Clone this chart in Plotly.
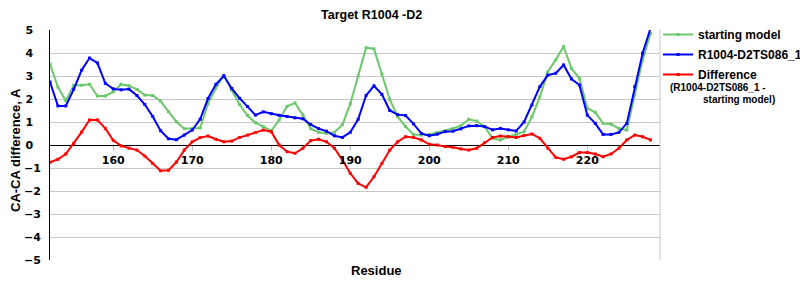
import plotly.graph_objects as go

residues = list(range(152, 229))

starting_model = [3.52, 2.52, 1.92, 2.60, 2.60, 2.64, 2.13, 2.13, 2.31, 2.64,
                  2.58, 2.42, 2.17, 2.15, 1.90, 1.45, 1.01, 0.71, 0.71, 0.74,
                  1.80, 2.48, 3.02, 2.38, 1.75, 1.28, 0.97, 0.80, 0.62, 1.09,
                  1.68, 1.83, 1.30, 0.71, 0.55, 0.50, 0.55, 0.88, 1.79, 3.00,
                  4.23, 4.18, 3.08, 1.98, 1.23, 0.80, 0.46, 0.43, 0.46, 0.55,
                  0.61, 0.72, 0.84, 1.12, 1.04, 0.80, 0.29, 0.22, 0.36, 0.46,
                  0.58, 1.23, 2.10, 3.19, 3.70, 4.28, 3.33, 2.90, 1.60, 1.42,
                  0.94, 0.91, 0.72, 0.65, 2.20, 3.70, 4.85]

model_ts086 = [2.74, 1.70, 1.70, 2.42, 3.25, 3.78, 3.57, 2.68, 2.44, 2.40,
               2.43, 2.15, 1.76, 1.24, 0.62, 0.27, 0.23, 0.43, 0.65, 1.12,
               2.02, 2.64, 3.01, 2.46, 2.03, 1.67, 1.30, 1.44, 1.36, 1.29,
               1.24, 1.18, 1.14, 0.89, 0.71, 0.60, 0.40, 0.33, 0.55, 1.12,
               2.15, 2.57, 2.20, 1.50, 1.32, 1.28, 0.92, 0.50, 0.40, 0.47,
               0.58, 0.60, 0.70, 0.83, 0.84, 0.80, 0.66, 0.72, 0.66, 0.61,
               1.00, 1.74, 2.54, 3.04, 3.12, 3.48, 2.87, 2.61, 1.30, 0.94,
               0.46, 0.46, 0.55, 0.94, 2.54, 3.99, 5.07]

difference = [-0.75, -0.62, -0.39, 0.07, 0.56, 1.09, 1.09, 0.72, 0.20, -0.04,
              -0.14, -0.22, -0.48, -0.80, -1.12, -1.10, -0.74, -0.22, 0.14, 0.32,
              0.39, 0.25, 0.14, 0.17, 0.33, 0.43, 0.54, 0.65, 0.58, 0.00,
              -0.29, -0.36, -0.14, 0.19, 0.25, 0.14, -0.14, -0.65, -1.23, -1.67,
              -1.84, -1.38, -0.80, -0.22, 0.14, 0.36, 0.33, 0.22, 0.03, 0.00,
              -0.07, -0.10, -0.17, -0.22, -0.14, 0.10, 0.33, 0.39, 0.36, 0.33,
              0.41, 0.48, 0.29, -0.14, -0.54, -0.62, -0.51, -0.33, -0.33, -0.39,
              -0.51, -0.39, -0.14, 0.22, 0.43, 0.36, 0.22]

x_ticks = [160, 170, 180, 190, 200, 210, 220]
y_ticks = [5, 4, 3, 2, 1, 0, -1, -2, -3, -4, -5]
y_tick_text = [(str(v) + "\u2007") if v >= 0 else "\u2212" + str(-v) for v in y_ticks]

GREEN = "#6CC86C"
BLUE = "#0000FF"
RED = "#FF0000"

fig = go.Figure()
for name, vals, col in [("starting model", starting_model, GREEN),
                        ("R1004-D2TS086_1", model_ts086, BLUE),
                        ("Difference", difference, RED)]:
    fig.add_trace(go.Scatter(
        x=residues, y=vals, name=name, legendgroup=name, mode="lines+markers",
        line=dict(color=col, width=2),
        marker=dict(color=col, size=3, symbol="square"),
        cliponaxis=True,
    ))

tick_font = dict(family="DejaVu Sans", size=11, color="black", weight="bold")

fig.update_layout(
    width=800, height=300,
    margin=dict(l=50, r=140, t=30, b=40, autoexpand=False),
    paper_bgcolor="white", plot_bgcolor="white",
    showlegend=True,
    legend=dict(x=(658 - 50) / 610, y=1 + 10 / 230, xanchor="left", yanchor="top",
                font=dict(family="Liberation Sans", size=12, color="black", weight="bold"),
                bgcolor="rgba(0,0,0,0)", itemwidth=30, tracegroupgap=1),
    xaxis=dict(range=[152, 229.2], anchor="free", position=0.5,
               tickvals=x_ticks, ticks="outside", ticklen=5, tickcolor="#c0c0c0",
               showgrid=False, showline=False, zeroline=False,
               tickfont=tick_font),
    yaxis=dict(range=[-5, 5], tickvals=y_ticks, ticktext=y_tick_text,
               showgrid=True, gridcolor="#c8c8c8", gridwidth=1,
               zeroline=True, zerolinecolor="black", zerolinewidth=1,
               showline=True, linecolor="black", linewidth=1,
               ticks="", ticklabelstandoff=6,
               tickfont=tick_font),
)

# right border of plot area
fig.add_shape(type="line", xref="paper", yref="paper", x0=1, x1=1, y0=0, y1=1,
              line=dict(color="#c8c8c8", width=1))

fig.add_annotation(text="Target R1004 -D2", xref="paper", yref="paper",
                   x=(371 - 50) / 610, y=1 + 15 / 230, showarrow=False,
                   xanchor="center", yanchor="middle",
                   font=dict(family="Liberation Sans", size=12.5, color="black", weight="bold"))
fig.add_annotation(text="CA-CA difference, A", xref="paper", yref="paper",
                   x=(15 - 50) / 610, y=(260 - 150) / 230, textangle=-90, showarrow=False,
                   xanchor="center", yanchor="middle",
                   font=dict(family="Liberation Sans", size=13, color="black", weight="bold"))
fig.add_annotation(text="Residue", xref="paper", yref="paper",
                   x=(376 - 50) / 610, y=(260 - 270) / 230, showarrow=False,
                   xanchor="center", yanchor="middle",
                   font=dict(family="Liberation Sans", size=13, color="black", weight="bold"))
sub_font = dict(family="Liberation Sans", size=10, color="black", weight="bold")
fig.add_annotation(text="(R1004-D2TS086_1 -", xref="paper", yref="paper",
                   x=(668 - 50) / 610, y=(260 - 87) / 230, showarrow=False,
                   xanchor="left", yanchor="middle", font=sub_font)
fig.add_annotation(text="starting model)", xref="paper", yref="paper",
                   x=(701 - 50) / 610, y=(260 - 99) / 230, showarrow=False,
                   xanchor="left", yanchor="middle", font=sub_font)

fig.write_html("out.html")
